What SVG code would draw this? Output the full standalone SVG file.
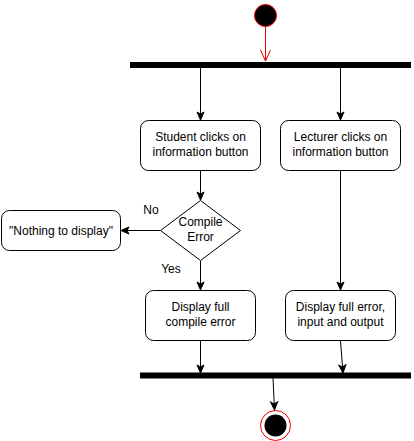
<svg xmlns="http://www.w3.org/2000/svg" width="414" height="441" viewBox="0 0 414 441">
<defs>
<style>
.box{fill:#fff;stroke:#000;stroke-width:1}
.t{font-family:"Liberation Sans",Arial,sans-serif;font-size:12px;fill:#000;text-anchor:middle}
.c{fill:none;stroke:#000;stroke-width:1}
.bar{fill:#000;stroke:#000}
</style>
<marker id="arr" markerWidth="10" markerHeight="10" refX="9" refY="5" orient="auto" markerUnits="userSpaceOnUse">
<path d="M1,1.5 L9,5 L1,8.5 L3,5 Z" fill="#000" stroke="#000" stroke-width="1"/>
</marker>
<marker id="open" markerWidth="12" markerHeight="14" refX="11" refY="6" orient="auto" markerUnits="userSpaceOnUse">
<path d="M0,1 L11,6 L0,11" fill="none" stroke="#e00" stroke-width="1"/>
</marker>
</defs>
<rect width="414" height="441" fill="#fff"/>
<g id="start"><circle cx="265.5" cy="15.5" r="11" fill="#000" stroke="#e00" stroke-width="1"/></g>
<g id="fork"><rect class="bar" x="130.5" y="62.5" width="280" height="5"/></g>
<g id="student"><rect class="box" x="140.5" y="120.5" width="120" height="50" rx="8"/><text class="t" x="200.5" y="141">Student clicks on</text><text class="t" x="200.5" y="156">information button</text></g>
<g id="lecturer"><rect class="box" x="280.5" y="120.5" width="120" height="50" rx="8"/><text class="t" x="340.5" y="141">Lecturer clicks on</text><text class="t" x="340.5" y="156">information button</text></g>
<g id="decision"><path class="box" d="M200.5,200.5 L240.5,230.5 L200.5,260.5 L160.5,230.5 Z"/><text class="t" x="200.5" y="226">Compile</text><text class="t" x="200.5" y="241">Error</text></g>
<g id="nothing"><rect class="box" x="1.5" y="210.5" width="119" height="40" rx="8"/><text class="t" x="61" y="234.5">"Nothing to display"</text></g>
<g id="compileerr"><rect class="box" x="145.5" y="290.5" width="110" height="50" rx="8"/><text class="t" x="200.5" y="311">Display full</text><text class="t" x="200.5" y="326">compile error</text></g>
<g id="fullerr"><rect class="box" x="285.5" y="290.5" width="110" height="50" rx="8"/><text class="t" x="340.5" y="311">Display full error,</text><text class="t" x="340.5" y="326">input and output</text></g>
<g id="join"><rect class="bar" x="140.5" y="373" width="270" height="5"/></g>
<g id="end"><circle cx="275.5" cy="425.5" r="15" fill="#fff" stroke="#e00" stroke-width="1"/><circle cx="275.5" cy="425.5" r="11" fill="#000"/></g>
<g id="connectors">
<line x1="265.5" y1="27" x2="265.5" y2="61" stroke="#e00" stroke-width="1" marker-end="url(#open)"/>
<line class="c" x1="200.5" y1="68" x2="200.5" y2="120" marker-end="url(#arr)"/>
<line class="c" x1="340.5" y1="68" x2="340.5" y2="120" marker-end="url(#arr)"/>
<line class="c" x1="200.5" y1="171" x2="200.5" y2="200" marker-end="url(#arr)"/>
<line class="c" x1="160.5" y1="230.5" x2="121" y2="230.5" marker-end="url(#arr)"/>
<line class="c" x1="200.5" y1="261" x2="200.5" y2="290" marker-end="url(#arr)"/>
<line class="c" x1="340.5" y1="171" x2="340.5" y2="290" marker-end="url(#arr)"/>
<line class="c" x1="200.5" y1="341" x2="200.5" y2="373" marker-end="url(#arr)"/>
<line class="c" x1="340.5" y1="341" x2="343" y2="373" marker-end="url(#arr)"/>
<line class="c" x1="273" y1="378" x2="274.5" y2="410" marker-end="url(#arr)"/>
<text class="t" x="151" y="213.5">No</text>
<text class="t" x="171" y="272.5">Yes</text>
</g>
</svg>
